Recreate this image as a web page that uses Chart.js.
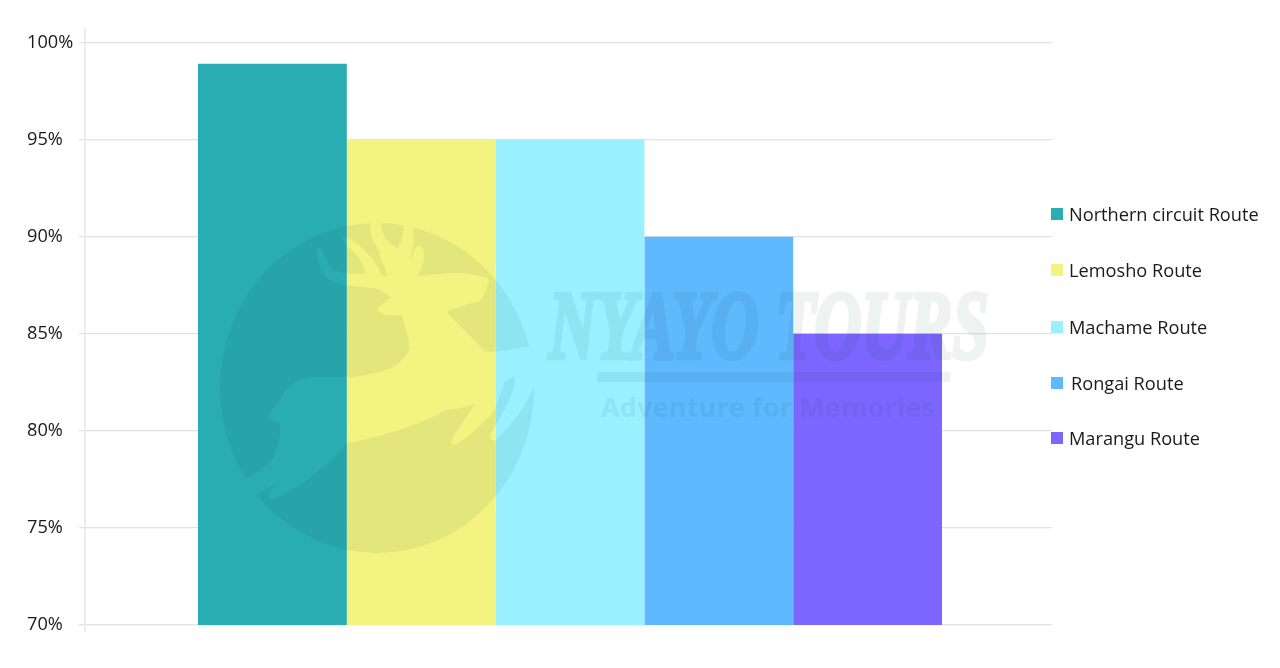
<!DOCTYPE html>
<html>
<head>
<meta charset="utf-8">
<title>Route success rates</title>
<script src="https://cdn.jsdelivr.net/npm/chart.js@4/dist/chart.umd.min.js"></script>
<style>
html, body { margin: 0; padding: 0; background: #fff; }
#wrap { position: relative; width: 1280px; height: 668px; overflow: hidden; }
#chart { position: absolute; left: 0; top: 0; }
#mark { position: absolute; left: 0; top: 0; pointer-events: none; }
.key { position: absolute; left: 1051px; height: 24px; line-height: 24px; white-space: nowrap;
       font-family: "Open Sans"; font-weight: 500; font-size: 18.2px; color: #1a1a1a; }
.key i { position: absolute; left: 0; top: 6px; width: 12px; height: 12px; }
.key span { position: absolute; left: 18px; }
</style>
</head>
<body>
<div id="wrap">
<canvas id="chart" width="1280" height="668"></canvas>
<!-- logo watermark sits over the bars -->
<svg id="mark" width="1280" height="668" viewBox="0 0 1280 668">
  <defs>
    <mask id="deerHole" maskUnits="userSpaceOnUse" x="0" y="0" width="1280" height="668">
      <rect width="1280" height="668" fill="#fff"/>
      <g transform="translate(210 215) scale(0.3333)">
        <path fill="#000" d="M835 205 C840 190 825 184 805 184 C775 170 700 172 622 185 C630 165 648 135 640 105 C632 85 618 88 612 110 C608 125 600 135 596 138 C612 105 615 70 608 35 L580 28 C582 60 575 85 562 100 C535 85 512 60 515 25 L483 22 C478 60 490 85 512 112 C505 122 510 132 520 145 C528 160 530 175 530 186 L515 180 C500 140 460 90 405 65 C395 70 398 82 410 92 C435 110 460 140 467 176 C430 178 395 175 372 165 C350 150 345 115 335 100 C325 95 315 102 320 115 C325 150 335 185 370 200 C395 213 440 215 490 218 C510 222 530 238 545 248 C530 258 505 272 503 285 C510 298 540 305 575 300 C585 335 600 375 598 405 C585 430 560 455 535 463 C490 475 450 487 410 487 L300 487 C260 490 235 510 215 545 C200 570 175 590 176 610 C182 622 195 622 208 622 C215 655 205 700 185 735 C165 755 135 775 105 795 L140 840 L210 800 C195 815 178 828 176 842 C180 855 190 855 200 850 C260 820 340 770 410 685 C490 670 600 640 680 600 C695 590 710 582 735 582 C755 580 780 572 795 565 C775 600 745 640 725 672 C720 685 730 692 740 688 C775 665 820 625 850 590 C865 560 875 525 885 500 L915 482 C920 510 900 550 880 590 C865 620 850 640 840 662 C840 675 850 680 858 675 C900 635 945 580 972 515 L1000 430 L955 393 C915 402 870 412 825 410 C790 370 745 330 710 290 C735 280 770 268 800 262 C820 255 825 235 835 205 Z"/>
      </g>
    </mask>
  </defs>
  <g fill="#0d3c2d" stroke="#0d3c2d" stroke-width="0" opacity="0.065">
    <ellipse cx="377" cy="388" rx="157" ry="165" mask="url(#deerHole)"/>
    <text x="549" y="358" stroke-width="4.5" font-family="Liberation Serif" font-weight="bold" font-style="italic" font-size="98" textLength="440" lengthAdjust="spacingAndGlyphs">NYAYO TOURS</text>
    <rect x="597" y="372" width="353" height="10"/>
    <text x="601" y="417" font-family="Open Sans" font-weight="bold" font-size="27" textLength="334" lengthAdjust="spacingAndGlyphs">Adventure for Memories</text>
  </g>
</svg>
<div id="legend"></div>
</div>
<script>
var routes = ["Northern circuit Route", "Lemosho Route", "Machame Route", "Rongai Route", "Marangu Route"];
var rates = [98.9, 95, 95, 90, 85];
var colors = ["#2aacb3", "#f3f381", "#99f0ff", "#5fb9ff", "#7d66ff"];
var yTicks = [70, 75, 80, 85, 90, 95, 100];
var legendTops = [202, 258, 315, 371, 426];
var legendTextLeft = [18, 18, 18, 20, 18];

// the y axis line pokes out past the plot at both ends
var axisStubs = {
    id: "axisStubs",
    beforeDatasetsDraw: function(chart) {
        var c = chart.ctx, a = chart.chartArea;
        c.save();
        c.strokeStyle = "#ececec";
        c.lineWidth = 2;
        c.beginPath();
        c.moveTo(a.left, a.top - 14);
        c.lineTo(a.left, a.bottom + 7);
        c.stroke();
        c.restore();
    }
};

// bars are not quite centred on the gridlines in the original, nudge the x scale
var xNudge = {
    id: "xNudge",
    afterLayout: function(chart) {
        var x = chart.scales.x;
        x._startPixel += 3;
        x._length -= 3;
    }
};

var chart = new Chart(document.getElementById("chart"), {
    type: "bar",
    data: {
        labels: [""],
        datasets: routes.map(function(r, i) {
            return { label: r, data: [rates[i]], backgroundColor: colors[i], borderWidth: 0 };
        })
    },
    plugins: [axisStubs, xNudge],
    options: {
        responsive: false,
        animation: false,
        layout: { padding: { top: 42.5, left: 27, right: 228, bottom: 0 } },
        datasets: { bar: { categoryPercentage: 0.7718, barPercentage: 1 } },
        plugins: {
            tooltip: { enabled: false },
            legend: { display: false }
        },
        scales: {
            x: {
                grid: { display: false },
                border: { display: false },
                ticks: { display: false },
                afterFit: function(s) { s.height = 43; }
            },
            y: {
                min: 70,
                max: 100,
                afterFit: function(s) { s.width = 58; },
                afterBuildTicks: function(s) { s.ticks = yTicks.map(function(v) { return { value: v }; }); },
                grid: { color: "#e2e2e2", lineWidth: 1.3, tickLength: 6 },
                border: { display: false },
                ticks: {
                    padding: 5,
                    crossAlign: "far",
                    color: "#1a1a1a",
                    font: { family: "Open Sans", size: 18.2, weight: "500" },
                    callback: function(v) { return v + "%"; }
                }
            }
        }
    }
});

// legend as html so each row can sit where the original has it
var t = "";
chart.data.datasets.forEach(function(d, i) {
    t += "<div class='key' style='top:" + legendTops[i] + "px'>" +
        "<i style='background:" + d.backgroundColor + "'></i>" +
        "<span style='left:" + legendTextLeft[i] + "px'>" + d.label + "</span></div>";
});
document.getElementById("legend").innerHTML = t;
</script>
</body>
</html>
